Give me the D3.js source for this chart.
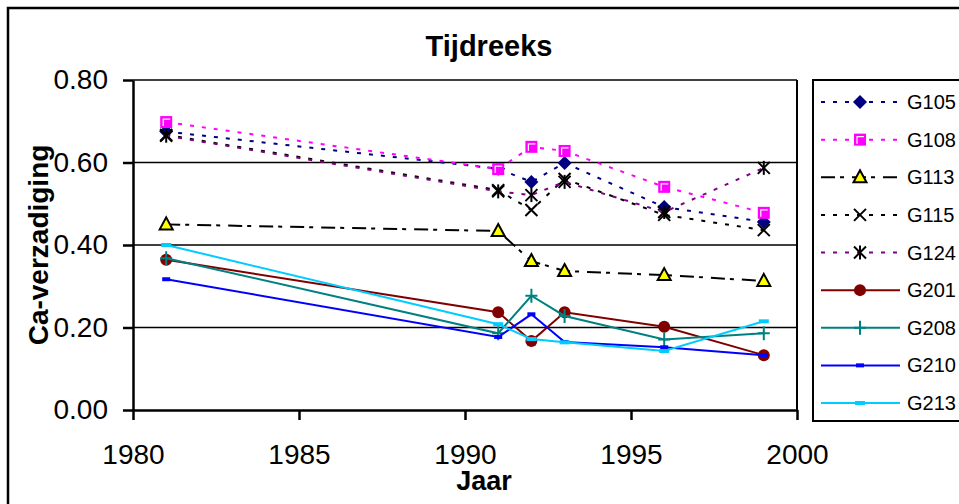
<!DOCTYPE html>
<html>
<head>
<meta charset="utf-8">
<script src="https://cdn.jsdelivr.net/npm/d3@7"></script>
<style>
  html, body { margin: 0; padding: 0; background: #fff; }
  svg { display: block; font-family: "Liberation Sans", Arial, sans-serif; }
</style>
</head>
<body>
<div id="chart"></div>
<script>
// jaren + Ca-verzadiging per meetpunt
const years = [1981, 1991, 1992, 1993, 1996, 1999];
const g105 = [0.675, 0.585, 0.553, 0.599, 0.492, 0.456];
const g108 = [0.698, 0.584, 0.638, 0.628, 0.541, 0.478];
const g113 = [0.450, 0.434, 0.361, 0.337, 0.327, 0.313];
const g115 = [0.667, 0.533, 0.485, 0.560, 0.473, 0.436];
const g124 = [0.665, 0.530, 0.521, 0.553, 0.480, 0.587];
const g201 = [0.364, 0.237, 0.167, 0.237, 0.202, 0.133];
const g208 = [0.368, 0.186, 0.277, 0.228, 0.171, 0.186];
const g210 = [0.317, 0.177, 0.232, 0.165, 0.152, 0.133];
const g213 = [0.400, 0.208, 0.172, 0.164, 0.143, 0.215];

const seriesNames = ["G105", "G108", "G113", "G115", "G124", "G201", "G208", "G210", "G213"];
const seriesValues = [g105, g108, g113, g115, g124, g201, g208, g210, g213];
const yTicks = [0, 0.2, 0.4, 0.6, 0.8];
const xTicks = [1980, 1985, 1990, 1995, 2000];

// stijl per reeks
const styles = {
  G105: { color: "#000080", dash: "4,8", marker: "diamond", fill: "#000080" },
  G108: { color: "#ff00ff", dash: "4,8", marker: "square", fill: "#ff00ff" },
  G113: { color: "#000000", dash: "14,5,4,8", marker: "triangle", fill: "#ffff00" },
  G115: { color: "#000000", dash: "4,8", marker: "x", fill: "none" },
  G124: { color: "#800080", dash: "4,8", marker: "star", fill: "none" },
  G201: { color: "#800000", dash: null, marker: "circle", fill: "#800000" },
  G208: { color: "#008080", dash: null, marker: "plus", fill: "none" },
  G210: { color: "#0000ff", dash: null, marker: "dash", fill: "#0000ff" },
  G213: { color: "#00ccff", dash: null, marker: "bigdash", fill: "#00ccff" }
};

const W = 959, H = 504;
const plot = { left: 133, right: 797, top: 80, bottom: 410 };

const svg = d3.select("#chart").append("svg")
  .attr("width", W).attr("height", H);

// chart border
svg.append("rect")
  .attr("x", 8).attr("y", 8)
  .attr("width", W + 20).attr("height", H + 20)
  .attr("fill", "none").attr("stroke", "#000").attr("stroke-width", 2.5);

const x = d3.scaleLinear().domain([1980, 2000]).range([plot.left, plot.right]);
const y = d3.scaleLinear().domain([0, 0.8]).range([plot.bottom, plot.top]);

// gridlines
svg.append("g")
  .selectAll("line")
  .data(yTicks.filter(d => d > 0))
  .enter().append("line")
  .attr("x1", plot.left).attr("x2", plot.right)
  .attr("y1", d => y(d)).attr("y2", d => y(d))
  .attr("stroke", "#000").attr("stroke-width", 1.3);

// right border of plot
svg.append("line")
  .attr("x1", plot.right).attr("x2", plot.right)
  .attr("y1", plot.top).attr("y2", plot.bottom)
  .attr("stroke", "#000").attr("stroke-width", 2);

const yAxis = svg.append("g")
  .attr("transform", "translate(" + plot.left + ",0)")
  .call(d3.axisLeft(y).tickValues(yTicks).tickFormat(d3.format(".2f")).tickSize(10).tickSizeOuter(0).tickPadding(15));

const xAxis = svg.append("g")
  .attr("transform", "translate(0," + plot.bottom + ")")
  .call(d3.axisBottom(x).tickValues(xTicks).tickFormat(d3.format("d")).tickSize(10).tickSizeOuter(0).tickPadding(24));

[yAxis, xAxis].forEach(a => {
  a.select(".domain").attr("stroke", "#000").attr("stroke-width", 2.5);
  a.selectAll(".tick line").attr("stroke", "#000").attr("stroke-width", 2.5);
  a.selectAll(".tick text")
    .attr("fill", "#000")
    .style("font-size", "28px")
    .style("font-family", "'Liberation Sans', Arial, sans-serif");
});

// titles
svg.append("text")
  .attr("x", 489).attr("y", 56)
  .attr("text-anchor", "middle")
  .style("font-size", "29px").style("font-weight", "bold")
  .text("Tijdreeks");

svg.append("text")
  .attr("x", 484).attr("y", 490)
  .attr("text-anchor", "middle")
  .style("font-size", "27px").style("font-weight", "bold")
  .text("Jaar");

svg.append("text")
  .attr("transform", "translate(48,245) rotate(-90)")
  .attr("text-anchor", "middle")
  .style("font-size", "28px").style("font-weight", "bold")
  .text("Ca-verzadiging");

function drawMarker(g, type, st, cx, cy) {
  if (type === "diamond") {
    g.append("path").attr("d", "M" + cx + "," + (cy - 7) + "L" + (cx + 7) + "," + cy + "L" + cx + "," + (cy + 7) + "L" + (cx - 7) + "," + cy + "Z")
      .attr("fill", st.fill);
  } else if (type === "square") {
    g.append("rect").attr("x", cx - 6).attr("y", cy - 6).attr("width", 12).attr("height", 12)
      .attr("fill", st.fill);
    g.append("path").attr("d", "M" + (cx - 3) + "," + (cy + 4) + "V" + (cy - 3) + "H" + (cx + 4))
      .attr("fill", "none").attr("stroke", "#fff").attr("stroke-width", 1.2);
  } else if (type === "triangle") {
    g.append("path").attr("d", "M" + cx + "," + (cy - 7) + "L" + (cx + 6.5) + "," + (cy + 5) + "L" + (cx - 6.5) + "," + (cy + 5) + "Z")
      .attr("fill", st.fill).attr("stroke", "#000").attr("stroke-width", 2);
  } else if (type === "x" || type === "star") {
    g.append("path").attr("d", "M" + (cx - 6) + "," + (cy - 6) + "L" + (cx + 6) + "," + (cy + 6) + "M" + (cx + 6) + "," + (cy - 6) + "L" + (cx - 6) + "," + (cy + 6))
      .attr("stroke", "#000").attr("stroke-width", 2);
    if (type === "star") {
      g.append("path").attr("d", "M" + cx + "," + (cy - 7) + "V" + (cy + 7))
        .attr("stroke", "#000").attr("stroke-width", 2);
    }
  } else if (type === "circle") {
    g.append("circle").attr("cx", cx).attr("cy", cy).attr("r", 6).attr("fill", st.fill);
  } else if (type === "plus") {
    g.append("path").attr("d", "M" + (cx - 6) + "," + cy + "H" + (cx + 6) + "M" + cx + "," + (cy - 7) + "V" + (cy + 7))
      .attr("stroke", st.color).attr("stroke-width", 2);
  } else if (type === "dash") {
    g.append("rect").attr("x", cx - 4).attr("y", cy - 2).attr("width", 8).attr("height", 4).attr("fill", st.fill);
  } else if (type === "bigdash") {
    g.append("rect").attr("x", cx - 5).attr("y", cy - 2).attr("width", 10).attr("height", 4).attr("fill", st.fill);
  }
}

const line = d3.line()
  .x(d => x(d.year))
  .y(d => y(d.value));

seriesNames.forEach((name, i) => {
  const st = styles[name];
  const pts = years.map((yr, j) => ({ year: yr, value: seriesValues[i][j] }));
  const g = svg.append("g").attr("class", "series " + name);
  g.append("path")
    .datum(pts)
    .attr("d", line)
    .attr("fill", "none")
    .attr("stroke", st.color)
    .attr("stroke-width", 2)
    .attr("stroke-dasharray", st.dash);
  pts.forEach(p => drawMarker(g, st.marker, st, x(p.year), y(p.value)));
});

// legend
const legend = svg.append("g");
legend.append("rect")
  .attr("x", 813).attr("y", 80)
  .attr("width", 200).attr("height", 341)
  .attr("fill", "#fff").attr("stroke", "#000").attr("stroke-width", 2);

const legendY = d3.scalePoint().domain(seriesNames).range([102, 403]);

seriesNames.forEach(name => {
  const st = styles[name];
  const ly = legendY(name);
  const g = legend.append("g");
  g.append("line")
    .attr("x1", 821).attr("x2", 900)
    .attr("y1", ly).attr("y2", ly)
    .attr("stroke", st.color).attr("stroke-width", 2)
    .attr("stroke-dasharray", st.dash);
  drawMarker(g, st.marker, st, 860, ly);
  g.append("text")
    .attr("x", 907).attr("y", ly + 7)
    .style("font-size", "20px")
    .text(name);
});
</script>
</body>
</html>
